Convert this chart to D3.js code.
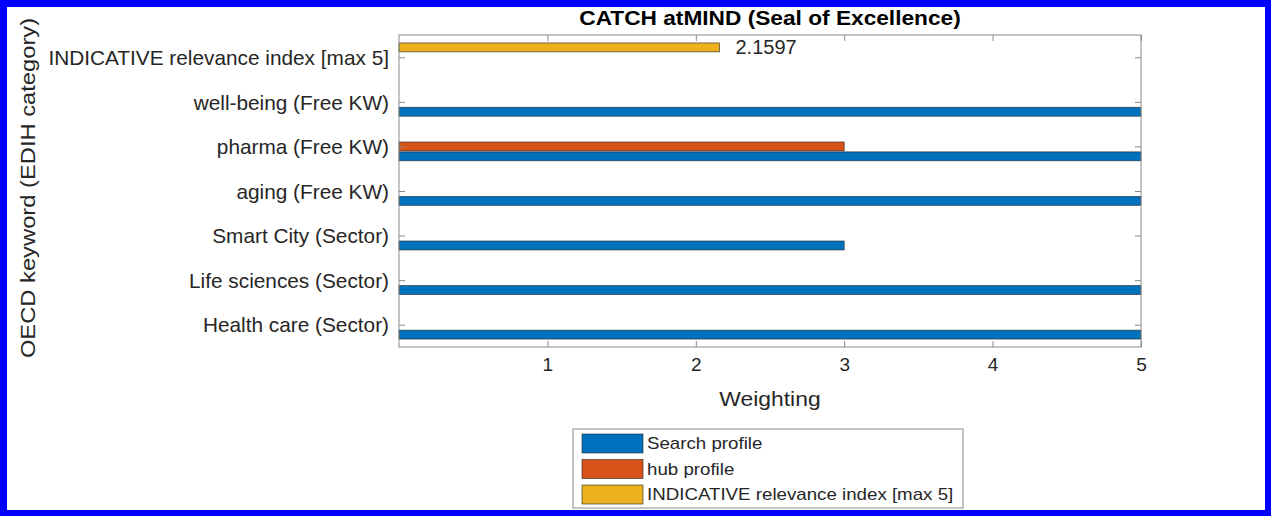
<!DOCTYPE html>
<html>
<head>
<meta charset="utf-8">
<script src="https://cdn.jsdelivr.net/npm/d3@7"></script>
<style>
	body { margin: 0; background: #fff; }
	svg text { font-family: "Liberation Sans", Arial, sans-serif; }
</style>
</head>
<body>
<script>
var SIZE = { width: 1271, height: 516 };

// categories from bottom (1) to top (7)
var categories = [
	'Health care (Sector)',
	'Life sciences (Sector)',
	'Smart City (Sector)',
	'aging (Free KW)',
	'pharma (Free KW)',
	'well-being (Free KW)',
	'INDICATIVE relevance index [max 5]'
];
var searchProfile = [5, 5, 3, 5, 5, 5, 0];
var hubProfile = [0, 0, 0, 0, 3, 0, 0];
var relevanceIndex = [0, 0, 0, 0, 0, 0, 2.1597];
var seriesNames = ['Search profile', 'hub profile', 'INDICATIVE relevance index [max 5]'];
var seriesColors = ['#0072BD', '#D95319', '#EDB120'];
var xTicks = [1, 2, 3, 4, 5];
var titleText = 'CATCH atMIND (Seal of Excellence)';
var xLabel = 'Weighting';
var yLabel = 'OECD keyword (EDIH category)';

var PLOT = { left: 399, right: 1141, top: 35, bottom: 347 };
var GROUP_STEP = 0.222;
var BAR_H = 0.2;

function stretch(sel, k) {
	sel.each(function () {
		var w = this.getComputedTextLength();
		d3.select(this).attr('textLength', w * k).attr('lengthAdjust', 'spacingAndGlyphs');
	});
}

var svg = d3.select('body').append('svg')
	.attr('width', SIZE.width)
	.attr('height', SIZE.height);

// blue frame
svg.append('rect').attr('width', SIZE.width).attr('height', SIZE.height).attr('fill', '#0000ff');
svg.append('rect').attr('x', 7).attr('y', 7).attr('width', 1258).attr('height', 503).attr('fill', '#fff');

var x = d3.scaleLinear().domain([0, 5]).range([PLOT.left, PLOT.right]);
var y = d3.scaleLinear().domain([0.5, categories.length + 0.5]).range([PLOT.bottom, PLOT.top]);

// bars
var series = [searchProfile, hubProfile, relevanceIndex];
var bars = [];
series.forEach(function (vals, s) {
	vals.forEach(function (v, i) {
		if (v > 0) bars.push({ s: s, pos: i + 1, value: v });
	});
});

svg.append('g').selectAll('rect')
	.data(bars)
	.enter().append('rect')
	.attr('x', x(0))
	.attr('y', function (d) { return y(d.pos + (d.s - 1) * GROUP_STEP + BAR_H / 2); })
	.attr('width', function (d) { return x(d.value) - x(0); })
	.attr('height', function (d) { return y(0) - y(BAR_H); })
	.attr('fill', function (d) { return seriesColors[d.s]; })
	.attr('stroke', '#1a1a1a')
	.attr('stroke-opacity', 0.7)
	.attr('stroke-width', 0.8);

// value label for the relevance index
var relIdx = relevanceIndex.length - 1;
svg.append('text')
	.attr('x', x(relevanceIndex[relIdx]) + 16)
	.attr('y', y(relIdx + 1 + GROUP_STEP))
	.attr('dy', '0.35em')
	.attr('font-size', 20)
	.attr('fill', '#262626')
	.text(String(relevanceIndex[relIdx]));

// axes
var tick = 6;
var xAxis = svg.append('g')
	.attr('transform', 'translate(0,' + PLOT.bottom + ')')
	.call(d3.axisBottom(x).tickValues(xTicks).tickSizeInner(-tick).tickSizeOuter(0).tickPadding(11).tickFormat(d3.format('d')));
svg.append('g')
	.attr('transform', 'translate(0,' + PLOT.top + ')')
	.call(d3.axisTop(x).tickValues(xTicks).tickSizeInner(-tick).tickSizeOuter(0).tickFormat(''));
var yAxis = svg.append('g')
	.attr('transform', 'translate(' + PLOT.left + ',0)')
	.call(d3.axisLeft(y).tickValues(d3.range(1, categories.length + 1)).tickSizeInner(-tick).tickSizeOuter(0).tickPadding(10)
		.tickFormat(function (d) { return categories[d - 1]; }));
svg.append('g')
	.attr('transform', 'translate(' + PLOT.right + ',0)')
	.call(d3.axisRight(y).tickValues(d3.range(1, categories.length + 1)).tickSizeInner(-tick).tickSizeOuter(0).tickFormat(''));

svg.selectAll('.domain').remove();
svg.selectAll('.tick line').attr('stroke', '#8a8a8a');
xAxis.selectAll('text').attr('font-size', 19).attr('fill', '#262626').attr('font-family', null);
yAxis.selectAll('text').attr('font-size', 20.8).attr('fill', '#262626').attr('font-family', null).attr('dy', '0.35em');

// axes box
svg.append('rect')
	.attr('x', PLOT.left).attr('y', PLOT.top)
	.attr('width', PLOT.right - PLOT.left).attr('height', PLOT.bottom - PLOT.top)
	.attr('fill', 'none').attr('stroke', '#8a8a8a').attr('stroke-width', 1);

// title and labels
svg.append('text')
	.attr('x', (PLOT.left + PLOT.right) / 2).attr('y', 25)
	.attr('text-anchor', 'middle')
	.attr('font-size', 21).attr('font-weight', 'bold').attr('fill', '#000')
	.text(titleText)
	.call(stretch, 1.08);

svg.append('text')
	.attr('x', (PLOT.left + PLOT.right) / 2).attr('y', 406)
	.attr('text-anchor', 'middle')
	.attr('font-size', 21).attr('fill', '#262626')
	.text(xLabel)
	.call(stretch, 1.09);

svg.append('text')
	.attr('transform', 'translate(35,188) rotate(-90)')
	.attr('text-anchor', 'middle')
	.attr('font-size', 21).attr('fill', '#262626')
	.text(yLabel)
	.call(stretch, 1.13);

// legend
var legend = svg.append('g');
legend.append('rect')
	.attr('x', 573).attr('y', 429).attr('width', 390).attr('height', 79)
	.attr('fill', '#fff').attr('stroke', '#8a8a8a').attr('stroke-width', 1);
var items = legend.selectAll('g.item')
	.data(seriesNames)
	.enter().append('g')
	.attr('transform', function (d, i) { return 'translate(582,' + (434 + i * 25.5) + ')'; });
items.append('rect')
	.attr('width', 61).attr('height', 19)
	.attr('fill', function (d, i) { return seriesColors[i]; })
	.attr('stroke', '#1a1a1a').attr('stroke-opacity', 0.7).attr('stroke-width', 0.8);
items.append('text')
	.attr('x', 65).attr('y', 9.5).attr('dy', '0.35em')
	.attr('font-size', 17).attr('fill', '#262626')
	.text(function (d) { return d; })
	.call(stretch, 1.1);
</script>
</body>
</html>
